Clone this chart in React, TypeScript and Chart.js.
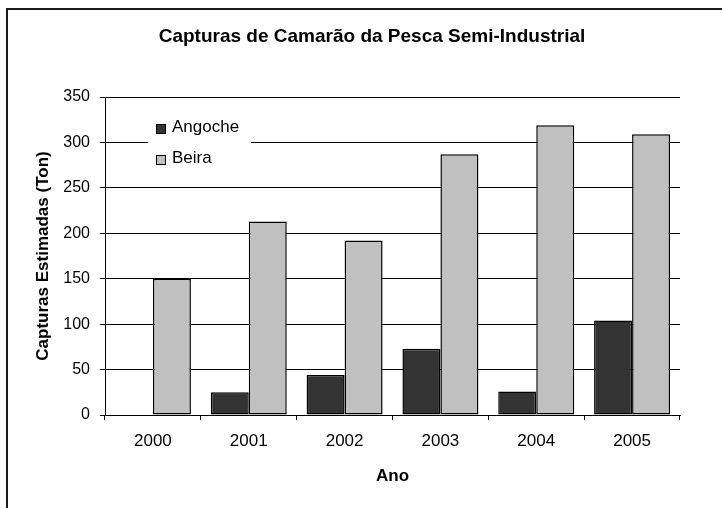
import React, { useEffect, useRef } from "react";
import { Chart, registerables } from "chart.js";

Chart.register(...registerables);

const chartTitle = "Capturas de Camarão da Pesca Semi-Industrial";
const xTitle = "Ano";
const yTitle = "Capturas Estimadas (Ton)";
const categories = ["2000", "2001", "2002", "2003", "2004", "2005"];
const seriesNames = ["Angoche", "Beira"];
const angoche = [0, 25, 44, 73, 26, 104];
const beira = [150, 213, 192, 287, 319, 309];
const yMin = 0;
const yMax = 350;
const yStep = 50;

const FONT = '"Liberation Sans", Arial, sans-serif';

const decorPlugin = {
  id: "decor",
  afterDraw(chart: any) {
    const ctx = chart.ctx;
    const ca = chart.chartArea;
    ctx.save();
    // frame (top and left edges)
    ctx.fillStyle = "#1a1a1a";
    ctx.fillRect(6, 8, 716, 2);
    ctx.fillRect(6, 8, 2, 500);
    // title
    ctx.fillStyle = "#000";
    ctx.font = `bold 19px ${FONT}`;
    ctx.textAlign = "center";
    ctx.textBaseline = "middle";
    ctx.fillText(chartTitle, 372, 36.5);
    // legend inside plot area
    const lx = ca.left + 43;
    const ly = ca.top + 13;
    ctx.fillStyle = "#fff";
    ctx.fillRect(lx, ly, 103, 66);
    ctx.font = `17px ${FONT}`;
    ctx.textAlign = "left";
    chart.data.datasets.forEach((ds: any, i: number) => {
      const cy = ly + 19 + i * 31;
      ctx.fillStyle = ds.backgroundColor;
      ctx.fillRect(lx + 8, cy - 4.5, 9, 9);
      ctx.strokeStyle = "#000";
      ctx.lineWidth = 1;
      ctx.strokeRect(lx + 8.5, cy - 4.5, 9, 9);
      ctx.fillStyle = "#000";
      ctx.fillText(ds.label, lx + 24, cy - 1.5);
    });
    ctx.restore();
  },
};

export default function App() {
  const ref = useRef<HTMLCanvasElement | null>(null);

  useEffect(() => {
    if (!ref.current) return;
    const chart = new Chart(ref.current, {
      type: "bar",
      data: {
        labels: categories,
        datasets: [
          {
            label: seriesNames[0],
            data: angoche,
            backgroundColor: "#333333",
            borderColor: "#000",
            borderWidth: 1.5,
            borderSkipped: false,
            categoryPercentage: 0.793,
            barPercentage: 1,
          },
          {
            label: seriesNames[1],
            data: beira,
            backgroundColor: "#C0C0C0",
            borderColor: "#000",
            borderWidth: 1.5,
            borderSkipped: false,
            categoryPercentage: 0.793,
            barPercentage: 1,
          },
        ],
      },
      options: {
        responsive: false,
        animation: false,
        devicePixelRatio: 1,
        layout: { padding: { left: 0, right: 42, top: 97, bottom: 0 } },
        plugins: {
          legend: { display: false },
          title: { display: false },
          tooltip: { enabled: false },
        },
        scales: {
          x: {
            offset: true,
            grid: {
              offset: true,
              drawOnChartArea: false,
              drawTicks: true,
              tickLength: 5,
              color: "#000",
              lineWidth: 1,
            },
            border: { display: true, color: "#000", width: 1 },
            ticks: {
              color: "#000",
              font: { family: FONT, size: 17 },
              padding: 11,
              maxRotation: 0,
            },
            title: {
              display: true,
              text: xTitle,
              color: "#000",
              font: { family: FONT, size: 17, weight: "bold" },
              padding: { top: 0, bottom: 21 },
            },
            afterFit(scale: any) {
              scale.height = 93;
            },
          },
          y: {
            min: yMin,
            max: yMax,
            ticks: {
              stepSize: yStep,
              color: "#000",
              font: { family: FONT, size: 16 },
              padding: 10,
            },
            grid: {
              color: "#000",
              lineWidth: 1,
              drawTicks: true,
              tickLength: 5,
            },
            border: { display: true, color: "#000", width: 1 },
            title: {
              display: true,
              text: yTitle,
              color: "#000",
              font: { family: FONT, size: 17, weight: "bold" },
              padding: { top: 33, bottom: 0 },
            },
            afterFit(scale: any) {
              scale.width = 105;
            },
          },
        },
      },
      plugins: [decorPlugin],
    } as any);
    return () => chart.destroy();
  }, []);

  return (
    <div style={{ position: "absolute", left: 0, top: 0, width: 722, height: 508, background: "#fff" }}>
      <canvas ref={ref} width={722} height={508} style={{ display: "block", width: 722, height: 508 }} />
    </div>
  );
}
